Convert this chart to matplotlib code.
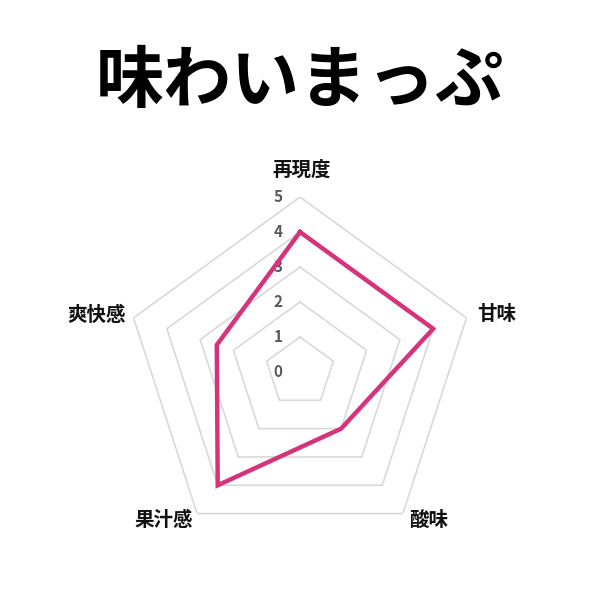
import numpy as np
import matplotlib.pyplot as plt

plt.rcParams['font.family'] = ['Noto Sans CJK JP', 'DejaVu Sans']

categories = ["再現度", "甘味", "酸味", "果汁感", "爽快感"]
values = [4, 4, 2, 4, 2.5]
levels = [1, 2, 3, 4, 5]
tick_labels = ["0", "1", "2", "3", "4", "5"]

# label offsets from the outer ring vertex, in points
label_offsets = [(1, 19.5), (22, 2.2), (18.7, -4.7), (-24.2, -5), (-26.6, 2.2)]

n = len(categories)
angles = np.linspace(0, 2 * np.pi, n, endpoint=False)
closed = np.append(angles, angles[0])

fig = plt.figure(figsize=(6, 6), dpi=100)
r = 175 / 600
ax = fig.add_axes([0.5 - r, 0.38 - r, 2 * r, 2 * r], projection='polar')
ax.set_theta_offset(np.pi / 2)
ax.set_theta_direction(-1)
ax.set_ylim(0, 5)
ax.grid(False)
ax.spines['polar'].set_visible(False)
ax.set_xticks([])
ax.set_yticks([])
ax.patch.set_visible(False)

# pentagon rings
for lv in levels:
    ax.plot(closed, [lv] * (n + 1), color='#d9d9d9', lw=1.2, zorder=1)

vals = values + values[:1]
ax.plot(closed, vals, color='#d6337a', lw=3.2, zorder=3, solid_joinstyle='miter')

# value labels along the top axis
for i, t in enumerate(tick_labels):
    ax.annotate(t, (0, i), xytext=(-15.8, 0), textcoords='offset points',
                ha='center', va='center', fontsize=11, fontweight='bold',
                color='#595959', zorder=2)

for a, c, off in zip(angles, categories, label_offsets):
    ax.annotate(c, (a, 5), xytext=off, textcoords='offset points',
                ha='center', va='center', fontsize=14,
                fontweight='bold', color='#111111', annotation_clip=False)

fig.text(0.5, 1 - 82 / 600, "味わいまっぷ", ha='center', va='center',
         fontsize=49, fontweight='bold', color='black')

fig.savefig("out.png", dpi=100)
